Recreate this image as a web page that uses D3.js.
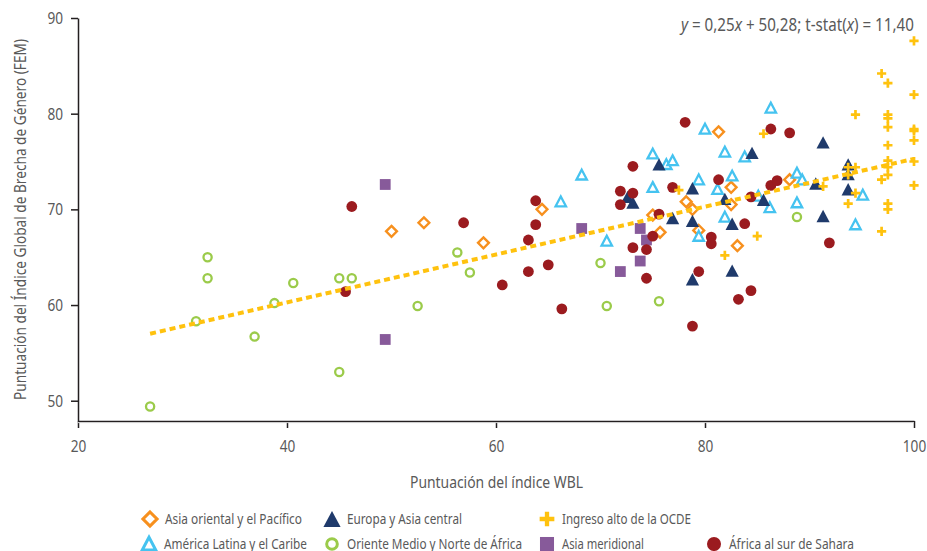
<!DOCTYPE html>
<html>
<head>
<meta charset="utf-8">
<script src="https://cdn.jsdelivr.net/npm/d3@7"></script>
<style>
  html, body { margin: 0; padding: 0; background: #fff; }
  svg { display: block; }
  text { font-family: "Noto Sans", "Open Sans", "Liberation Sans", sans-serif; fill: #595959; }
</style>
</head>
<body>
<svg id="chart" width="927" height="551"></svg>
<script>
// WBL index score (x) vs. WEF Global Gender Gap score (y), by region
const asiaOriental = [
  [50.0, 67.7], [53.1, 68.6], [58.8, 66.5], [64.4, 70.0], [81.3, 78.1],
  [75.0, 69.4], [75.7, 67.6], [78.2, 70.8], [78.8, 70.0], [79.4, 67.8],
  [82.5, 72.3], [82.5, 70.5], [83.1, 66.2], [88.1, 73.1]
];
const europaAsiaCentral = [
  [75.6, 74.7], [84.5, 75.9], [91.3, 77.0], [72.6, 71.3], [73.1, 70.7],
  [78.8, 72.2], [76.9, 69.1], [78.8, 68.8], [81.9, 71.1], [82.6, 68.5],
  [85.6, 71.0], [90.6, 72.7], [93.7, 74.7], [93.7, 73.7], [93.7, 72.1],
  [91.3, 69.3], [82.6, 63.6], [78.8, 62.7]
];
const ingresoAltoOCDE = [
  [100, 87.6], [96.9, 84.2], [97.5, 83.2], [100, 82.0], [94.4, 79.9],
  [97.5, 79.9], [97.5, 79.5], [97.5, 78.6], [100, 78.4], [100, 78.2],
  [100, 77.2], [97.5, 76.7], [85.6, 77.9], [97.5, 75.1], [100, 75.0],
  [97.5, 74.4], [97.5, 73.6], [96.9, 73.1], [93.7, 74.4], [94.4, 74.4],
  [93.7, 73.6], [91.3, 72.4], [94.4, 71.7], [93.7, 70.6], [97.5, 70.6],
  [97.5, 70.0], [100, 72.5], [96.9, 67.7], [85.0, 67.2], [81.9, 65.2],
  [77.5, 72.0]
];
const americaLatina = [
  [68.2, 73.6], [66.2, 70.8], [70.6, 66.7], [86.3, 80.6], [80.0, 78.4],
  [75.0, 75.8], [76.3, 74.7], [76.9, 75.1], [81.9, 76.0], [83.8, 75.5],
  [75.0, 72.3], [79.4, 73.1], [81.2, 72.1], [82.6, 73.5], [81.9, 69.2],
  [79.4, 67.2], [86.2, 70.2], [88.8, 73.8], [89.3, 73.1], [88.8, 70.7],
  [95.1, 71.5], [94.4, 68.4], [85.1, 71.4]
];
const orienteMedio = [
  [26.9, 49.4], [31.3, 58.3], [32.4, 65.0], [32.4, 62.8], [36.9, 56.7],
  [38.8, 60.2], [40.6, 62.3], [45.0, 53.0], [45.0, 62.8], [46.2, 62.8],
  [52.5, 59.9], [56.3, 65.5], [57.5, 63.4], [70.0, 64.4], [70.6, 59.9],
  [75.6, 60.4], [88.8, 69.2]
];
const asiaMeridional = [
  [49.4, 72.6], [49.4, 56.4], [68.2, 68.0], [71.9, 63.5], [73.8, 68.0],
  [74.4, 66.8], [73.8, 64.6]
];
const africaSubsahariana = [
  [46.2, 70.3], [45.6, 61.4], [56.9, 68.6], [60.6, 62.1], [63.1, 63.5],
  [65.0, 64.2], [63.1, 66.8], [63.8, 68.4], [63.8, 70.9], [66.3, 59.6],
  [78.1, 79.1], [86.3, 78.4], [88.1, 78.0], [73.1, 74.5], [71.9, 71.9],
  [73.1, 71.7], [71.9, 70.5], [76.9, 72.3], [81.3, 73.1], [86.3, 72.5],
  [86.9, 73.0], [84.4, 71.3], [75.6, 69.5], [75.0, 67.2], [73.1, 66.0],
  [74.4, 65.8], [74.4, 62.8], [80.6, 67.1], [80.6, 66.4], [83.8, 68.5],
  [79.4, 63.5], [91.9, 66.5], [83.2, 60.6], [84.4, 61.5], [78.8, 57.8]
];

// Fitted line: y = 0,25x + 50,28
const trendSlope = 0.25;
const trendIntercept = 50.28;
const trendRange = [26.9, 100];

const xTicks = [20, 40, 60, 80, 100];
const yTicks = [50, 60, 70, 80, 90];
const xTitle = "Puntuación del índice WBL";
const yTitle = "Puntuación del Índice Global de Brecha de Género (FEM)";

const C = {
  orange: "#F7901E", navy: "#1F3A6B", gold: "#FFC20E", sky: "#45C3F0",
  green: "#9BCB4A", purple: "#875A9A", red: "#9B1B1F"
};

const series = [
  { name: "Oriente Medio y Norte de África", data: orienteMedio, shape: "ring", color: C.green },
  { name: "Asia meridional", data: asiaMeridional, shape: "square", color: C.purple },
  { name: "Asia oriental y el Pacífico", data: asiaOriental, shape: "diamond", color: C.orange },
  { name: "América Latina y el Caribe", data: americaLatina, shape: "triOpen", color: C.sky },
  { name: "Europa y Asia central", data: europaAsiaCentral, shape: "triFill", color: C.navy },
  { name: "África al sur de Sahara", data: africaSubsahariana, shape: "dot", color: C.red },
  { name: "Ingreso alto de la OCDE", data: ingresoAltoOCDE, shape: "cross", color: C.gold }
];

const svg = d3.select("#chart");
const x = d3.scaleLinear().domain([20, 100]).range([78, 914]);
const y = d3.scaleLinear().domain([47.88, 90]).range([421, 18]);

// condensed look: squeeze a text to a given width
function squeeze(sel, width) {
  sel.attr("textLength", width).attr("lengthAdjust", "spacingAndGlyphs");
}

// marker drawing, s = scale factor
function drawMarker(g, shape, color, s) {
  switch (shape) {
    case "ring":
      g.append("circle").attr("r", 4.1 * s).attr("fill", "#fff")
        .attr("stroke", color).attr("stroke-width", 2.3 * s);
      break;
    case "dot":
      g.append("circle").attr("r", 5.4 * s).attr("fill", color);
      break;
    case "square":
      g.append("rect").attr("x", -5.4 * s).attr("y", -5.4 * s)
        .attr("width", 10.8 * s).attr("height", 10.8 * s).attr("fill", color);
      break;
    case "diamond": {
      const r = 5.4 * s;
      g.append("path").attr("d", `M0,${-r}L${r},0L0,${r}L${-r},0Z`)
        .attr("fill", "#fff").attr("stroke", color).attr("stroke-width", 2.4 * s);
      break;
    }
    case "triOpen": {
      const w = 5.2 * s, h = 4.6 * s;
      g.append("path").attr("d", `M0,${-h - 0.6 * s}L${w},${h}L${-w},${h}Z`)
        .attr("fill", "#fff").attr("stroke", color).attr("stroke-width", 2.3 * s)
        .attr("stroke-linejoin", "miter");
      break;
    }
    case "triFill": {
      const w = 6.6 * s, h = 6.2 * s;
      g.append("path").attr("d", `M0,${-h}L${w},${h}L${-w},${h}Z`).attr("fill", color);
      break;
    }
    case "cross": {
      const a = 4.6 * s, t = 1.35 * s;
      g.append("path")
        .attr("d", `M${-t},${-a}H${t}V${-t}H${a}V${t}H${t}V${a}H${-t}V${t}H${-a}V${-t}H${-t}Z`)
        .attr("fill", color);
      break;
    }
  }
}

// axes
const yAxis = d3.axisLeft(y).tickValues(yTicks).tickSize(7).tickSizeOuter(0).tickPadding(8);
const yg = svg.append("g").attr("transform", "translate(78,0)").call(yAxis);
const xAxis = d3.axisBottom(x).tickValues(xTicks).tickSize(7).tickSizeOuter(0).tickPadding(12);
const xg = svg.append("g").attr("transform", "translate(0,421)").call(xAxis);
[yg, xg].forEach(g => {
  g.select(".domain").attr("stroke", "#231F20").attr("stroke-width", 1.5);
  g.selectAll(".tick line").attr("stroke", "#231F20").attr("stroke-width", 1.5);
  g.selectAll(".tick text").attr("fill", "#595959").style("font-size", "17px")
    .style("font-family", '"Noto Sans", "Open Sans", sans-serif')
    .each(function (d) { squeeze(d3.select(this), String(d).length * 7.8); });
});
// faint shadow under the horizontal axis
svg.append("line").attr("x1", 78).attr("x2", 914).attr("y1", 422.6).attr("y2", 422.6)
  .attr("stroke", "#cfcfcf").attr("stroke-width", 1);

// points
const pts = svg.append("g");
series.forEach(sr => {
  sr.data.forEach(d => {
    const g = pts.append("g").attr("transform", `translate(${x(d[0])},${y(d[1])})`);
    drawMarker(g, sr.shape, sr.color, 1);
  });
});

// fitted line
svg.append("line")
  .attr("x1", x(trendRange[0])).attr("y1", y(trendSlope * trendRange[0] + trendIntercept))
  .attr("x2", x(trendRange[1])).attr("y2", y(trendSlope * trendRange[1] + trendIntercept))
  .attr("stroke", C.gold).attr("stroke-width", 4).attr("stroke-dasharray", "6,4");

// regression annotation, narrowed horizontally as one block
const annG = svg.append("g");
const ann = annG.append("text").attr("x", 0).attr("y", 0).style("font-size", "18px");
ann.append("tspan").attr("font-style", "italic").text("y");
ann.append("tspan").text(" = 0,25");
ann.append("tspan").attr("font-style", "italic").text("x");
ann.append("tspan").text(" + 50,28; t-stat(");
ann.append("tspan").attr("font-style", "italic").text("x");
ann.append("tspan").text(") = 11,40");
const annW = ann.node().getComputedTextLength();
annG.attr("transform", `translate(681,31) scale(${233 / annW},1)`);

// axis titles
squeeze(svg.append("text").attr("x", 410).attr("y", 488)
  .style("font-size", "16px").text(xTitle), 173);
squeeze(svg.append("text").attr("transform", "translate(26,400) rotate(-90)")
  .style("font-size", "16px").text(yTitle), 361);

// legend
const legendItems = [
  { s: series[2], x: 150, y: 519, w: 137 },
  { s: series[4], x: 332, y: 519, w: 115 },
  { s: series[6], x: 547, y: 519, w: 129 },
  { s: series[3], x: 149, y: 544, w: 143 },
  { s: series[0], x: 332, y: 544, w: 175 },
  { s: series[1], x: 547, y: 544, w: 82 },
  { s: series[5], x: 714, y: 544, w: 125 }
];
legendItems.forEach(it => {
  const g = svg.append("g").attr("transform", `translate(${it.x},${it.y})`);
  drawMarker(g, it.s.shape, it.s.color, it.s.shape === "cross" ? 1.6 : 1.3);
  squeeze(g.append("text").attr("x", 15).attr("y", 0).attr("dy", "0.35em")
    .style("font-size", "15px").text(it.s.name), it.w);
});
</script>
</body>
</html>
